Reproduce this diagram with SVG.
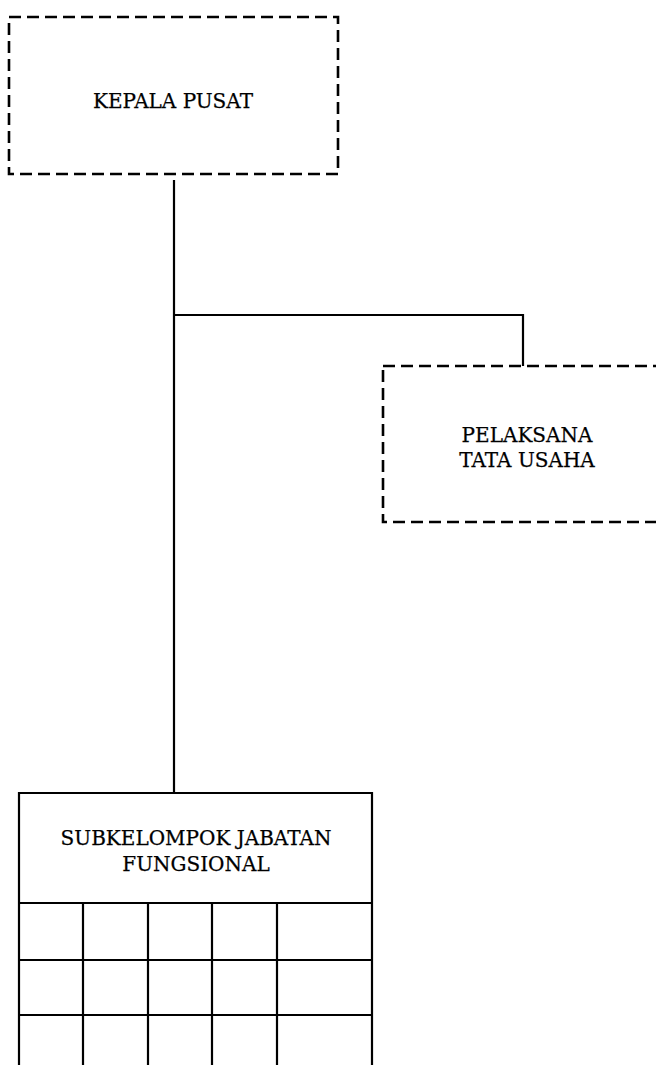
<svg xmlns="http://www.w3.org/2000/svg" width="656" height="1065" viewBox="0 0 656 1065">
<style>
.dash{fill:none;stroke:#000;stroke-width:2.6;stroke-dasharray:12 6}
.solid{fill:none;stroke:#000;stroke-width:2.2}
.lbl{font-family:"DejaVu Serif","Liberation Serif",serif;font-size:20px;fill:#000;stroke:#000;stroke-width:0.25;text-anchor:middle}
</style>
<rect width="656" height="1065" fill="#fff"/>
<g id="connectors">
<path class="solid" d="M174,180 V793"/>
<path class="solid" d="M174,315 H523 V366"/>
</g>
<g id="kepala-pusat">
<rect class="dash" x="9" y="17" width="329" height="157"/>
<text class="lbl" x="173" y="108">KEPALA PUSAT</text>
</g>
<g id="pelaksana-tata-usaha">
<rect class="dash" x="383" y="366" width="329" height="156"/>
<text class="lbl" x="527" y="442">PELAKSANA</text>
<text class="lbl" x="527" y="467">TATA USAHA</text>
</g>
<g id="subkelompok-jabatan-fungsional">
<path class="solid" d="M19,1065 V793 H372 V1065"/>
<path class="solid" d="M19,903 H372 M19,960 H372 M19,1015 H372"/>
<path class="solid" d="M83,903 V1065 M148,903 V1065 M212,903 V1065 M277,903 V1065"/>
<text class="lbl" x="196" y="845">SUBKELOMPOK JABATAN</text>
<text class="lbl" x="196" y="871">FUNGSIONAL</text>
</g>
</svg>
